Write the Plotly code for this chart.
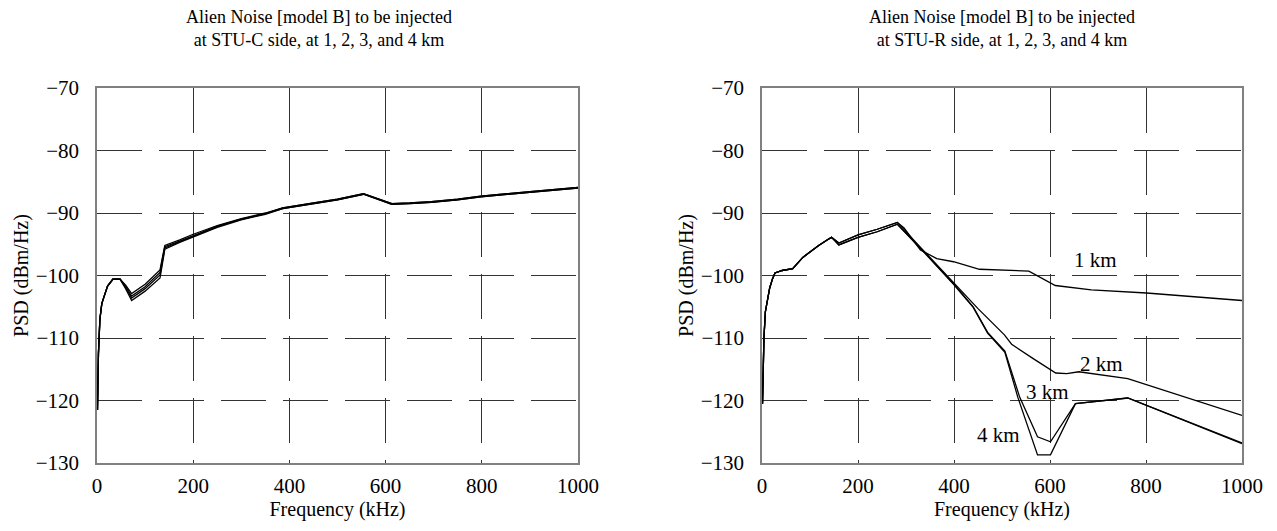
import plotly.graph_objects as go

# ---------------- Left panel: STU-C side ----------------
freq_c = [1, 3, 6, 10, 15, 22, 33, 48, 60, 72, 100, 131, 135, 141, 172, 200, 250, 300,
          350, 386, 450, 500, 554, 580, 613, 650, 695, 750, 798, 900, 1000]
c_1km = [-121.5, -112.5, -107.0, -104.5, -103.3, -101.7, -100.6, -100.6, -101.6, -102.9,
         -101.4, -99.1, -97.5, -95.2, -94.3, -93.4, -92.0, -90.9, -90.0, -89.2, -88.4,
         -87.8, -86.9, -87.6, -88.5, -88.4, -88.2, -87.8, -87.3, -86.6, -85.9]
c_2km = [-121.5, -112.5, -107.0, -104.5, -103.3, -101.7, -100.6, -100.6, -101.8, -103.3,
         -101.8, -99.5, -97.8, -95.4, -94.5, -93.6, -92.1, -91.0, -90.1, -89.2, -88.4,
         -87.8, -86.9, -87.6, -88.5, -88.4, -88.2, -87.8, -87.3, -86.6, -85.9]
c_3km = [-121.5, -112.5, -107.0, -104.5, -103.3, -101.7, -100.6, -100.6, -102.0, -103.6,
         -102.1, -99.9, -98.2, -95.6, -94.6, -93.7, -92.2, -91.0, -90.1, -89.3, -88.5,
         -87.9, -87.0, -87.7, -88.6, -88.5, -88.3, -87.9, -87.4, -86.7, -86.0]
c_4km = [-121.5, -112.5, -107.0, -104.5, -103.3, -101.7, -100.6, -100.6, -102.2, -104.0,
         -102.5, -100.4, -98.6, -95.8, -94.7, -93.8, -92.3, -91.1, -90.2, -89.3, -88.5,
         -87.9, -87.0, -87.7, -88.6, -88.5, -88.3, -87.9, -87.4, -86.7, -86.0]

# ---------------- Right panel: STU-R side ----------------
freq_r_head = [1, 4, 7, 12, 16, 22, 27, 42, 64, 85, 118, 138, 145, 160, 200, 240, 282]
r_head_a = [-120.5, -110.0, -105.8, -103.5, -102.0, -100.5, -99.6, -99.2, -98.9, -97.1,
            -95.2, -94.2, -93.9, -94.8, -93.5, -92.6, -91.5]
r_head_b = [-120.5, -110.0, -105.8, -103.5, -102.0, -100.5, -99.6, -99.2, -98.9, -97.1,
            -95.2, -94.2, -93.9, -95.1, -93.9, -93.0, -91.8]

freq_r_1km_tail = [296, 330, 364, 399, 453, 556, 611, 686, 801, 1000]
r_1km_tail = [-92.4, -95.9, -97.3, -97.8, -99.0, -99.3, -101.6, -102.3, -102.8, -104.0]

freq_r_2km_tail = [340, 400, 450, 505, 520, 565, 612, 635, 660, 762, 1000]
r_2km_tail = [-96.3, -101.2, -105.3, -109.5, -111.0, -113.3, -115.6, -115.7, -115.4, -116.5, -122.4]

freq_r_3km_tail = [340, 400, 440, 470, 506, 537, 574, 601, 653, 762, 1000]
r_3km_tail = [-96.4, -101.4, -105.0, -109.1, -112.1, -119.5, -125.8, -126.6, -120.5, -119.6, -126.8]

freq_r_4km_tail = [340, 400, 440, 470, 506, 533, 574, 601, 653, 762, 1000]
r_4km_tail = [-96.5, -101.5, -105.1, -109.2, -112.3, -119.5, -128.7, -128.7, -120.5, -119.6, -126.9]

label_text = ["1 km", "2 km", "3 km", "4 km"]
label_freq = [694, 708, 595, 492]
label_psd = [-97.5, -114.2, -118.7, -125.5]

titles = ["Alien Noise [model B] to be injected<br>at STU-C side, at 1, 2, 3, and 4 km",
          "Alien Noise [model B] to be injected<br>at STU-R side, at 1, 2, 3, and 4 km"]

FONT = "Liberation Serif"
LINE = dict(color="black", width=1.3)

fig = go.Figure()
for ys in (c_1km, c_2km, c_3km, c_4km):
    fig.add_trace(go.Scatter(x=freq_c, y=ys, mode="lines", line=LINE,
                             xaxis="x", yaxis="y", showlegend=False))

right_series = [
    (freq_r_head + freq_r_1km_tail, r_head_a + r_1km_tail),
    (freq_r_head + freq_r_2km_tail, r_head_a + r_2km_tail),
    (freq_r_head + freq_r_3km_tail, r_head_b + r_3km_tail),
    (freq_r_head + freq_r_4km_tail, r_head_b + r_4km_tail),
]
for xs, ys in right_series:
    fig.add_trace(go.Scatter(x=xs, y=ys, mode="lines", line=LINE,
                             xaxis="x2", yaxis="y2", showlegend=False))

xax = dict(range=[0, 1000], tickvals=[0, 200, 400, 600, 800, 1000],
           showgrid=True, gridcolor="#333", griddash="45px,17px", gridwidth=1,
           showline=True, linecolor="#808080", linewidth=1.5, mirror=True,
           ticks="", zeroline=False, ticklabelstandoff=3,
           tickfont=dict(family=FONT, size=21, color="black"),
           title=dict(text="Frequency (kHz)", font=dict(family=FONT, size=20, color="black"),
                      standoff=3))
yax = dict(range=[-130, -70], tickvals=[-130, -120, -110, -100, -90, -80, -70],
           showgrid=True, gridcolor="#333", griddash="45px,17px", gridwidth=1,
           showline=True, linecolor="#808080", linewidth=1.5, mirror=True,
           ticks="", zeroline=False, ticklabelstandoff=12,
           tickfont=dict(family=FONT, size=21, color="black"),
           title=dict(text="PSD (dBm/Hz)", font=dict(family=FONT, size=20, color="black"),
                      standoff=2))

L_DOM = [0.0, 0.4201]
R_DOM = [0.5808, 1.0]

# page body has an 8px margin, so the figure is sized/margined to compensate
fig.update_layout(
    width=1269, height=523,
    margin=dict(l=89, r=35, t=80, b=68),
    paper_bgcolor="white", plot_bgcolor="white",
    font=dict(family=FONT, color="black"),
    xaxis=dict(xax, domain=L_DOM, anchor="y"),
    yaxis=dict(yax, anchor="x"),
    xaxis2=dict(xax, domain=R_DOM, anchor="y2"),
    yaxis2=dict(yax, anchor="x2"),
)

for dom, t, xs in zip((L_DOM, R_DOM), titles, (-19, 0)):
    fig.add_annotation(text=t, xref="paper", yref="paper",
                       x=(dom[0] + dom[1]) / 2, y=1.0, yshift=36, xshift=xs,
                       xanchor="center", yanchor="bottom", showarrow=False,
                       font=dict(family=FONT, size=18, color="black"))

for txt, fx, fy in zip(label_text, label_freq, label_psd):
    fig.add_annotation(text=txt, x=fx, y=fy, xref="x2", yref="y2", showarrow=False,
                       xanchor="center", yanchor="middle",
                       font=dict(family=FONT, size=21, color="black"), bgcolor="rgba(0,0,0,0)")

fig.write_html("out.html")
